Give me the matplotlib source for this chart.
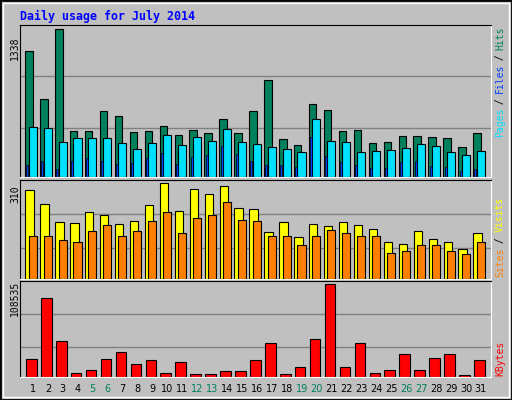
import numpy as np
import matplotlib.pyplot as plt
from matplotlib.patches import Rectangle

days = np.arange(1, 32)
hits = [1138, 711, 1338, 421, 421, 602, 557, 412, 421, 466, 384, 430, 403, 521, 403, 602,
        875, 348, 294, 657, 611, 421, 430, 312, 321, 375, 375, 366, 357, 275, 403]
files = [457, 448, 321, 357, 357, 357, 312, 257, 312, 384, 294, 366, 330, 439, 321, 303,
         275, 257, 230, 521, 330, 321, 230, 239, 248, 266, 303, 285, 230, 203, 239]
pages = [112, 148, 76, 148, 176, 148, 121, 130, 176, 221, 121, 185, 203, 285, 212, 148,
         112, 112, 94, 366, 194, 139, 112, 85, 85, 139, 148, 103, 94, 58, 76]
visits = [290, 243, 185, 182, 216, 209, 179, 189, 239, 310, 222, 293, 276, 300, 229, 226,
          152, 185, 135, 179, 172, 185, 175, 162, 121, 115, 155, 131, 121, 98, 148]
sites = [141, 138, 125, 121, 155, 175, 141, 155, 189, 216, 148, 199, 206, 249, 192, 189,
         138, 141, 111, 141, 158, 148, 141, 138, 84, 91, 111, 111, 91, 81, 121]
kbytes = [20600, 93100, 42000, 5150, 8700, 20600, 28900, 14650, 19400, 5150, 17000, 3960,
          3960, 7500, 7500, 19400, 39600, 3960, 12300, 44400, 108535, 12300, 39600, 5150,
          8700, 26500, 8700, 21800, 26500, 2770, 19400]
weekend = [5, 6, 12, 13, 19, 20, 26, 27]

W, H = 512, 400
bg = "#c0c0c0"
fig = plt.figure(figsize=(W / 100, H / 100), dpi=100, facecolor=bg)

# bevel border
fig.patches.append(Rectangle((0, 0), 1, 1, transform=fig.transFigure, fill=False,
                             edgecolor="black", lw=2))
fig.patches.append(Rectangle((3 / W, 3 / H), 1 - 6 / W, 1 - 6 / H, transform=fig.transFigure,
                             fill=False, edgecolor="white", lw=1))


def panel(y0, y1):
    # y0, y1 in pixels from top
    ax = fig.add_axes([20 / W, 1 - y1 / H, 471 / W, (y1 - y0) / H])
    ax.set_facecolor(bg)
    ax.set_xlim(0.13, 31.67)
    for s in ["left", "top"]:
        ax.spines[s].set_color("black")
    for s in ["right", "bottom"]:
        ax.spines[s].set_color("white")
    ax.set_xticks([])
    ax.set_yticks([])
    return ax


bk = dict(edgecolor="black", linewidth=0.8)

ax1 = panel(25, 177)
ax1.set_ylim(0, 1377)
for g in [448, 911]:
    ax1.axhline(g, color="#808080", lw=1, zorder=0)
ax1.bar(days - 0.27, hits, 0.5, color="#00805c", zorder=2, **bk)
ax1.bar(days - 0.02, files, 0.54, color="#00e0ff", zorder=3, **bk)
ax1.bar(days - 0.37, pages, 0.13, color="#0040ff", zorder=4, edgecolor="black", linewidth=0.5)

ax2 = panel(180, 279)
ax2.set_ylim(0, 321)
for g in [101, 212]:
    ax2.axhline(g, color="#808080", lw=1, zorder=0)
ax2.bar(days - 0.23, visits, 0.56, color="#ffff00", zorder=2, **bk)
ax2.bar(days - 0.02, sites, 0.54, color="#ff8000", zorder=3, **bk)

ax3 = panel(281, 377)
ax3.set_ylim(0, 112500)
for g in [34850, 74050]:
    ax3.axhline(g, color="#808080", lw=1, zorder=0)
ax3.bar(days - 0.11, kbytes, 0.71, color="#ff0000", zorder=2, **bk)

mono = "DejaVu Sans Mono"
fig.text(20 / W, 1 - 16 / H, "Daily usage for July 2014", color="#0000ff", fontsize=8.4,
         fontweight="bold", family=mono, va="center", ha="left")

# max labels on the left
for txt, yc in [("1338", 48), ("310", 194), ("108535", 298)]:
    fig.text(15 / W, 1 - yc / H, txt, rotation=90, fontsize=7, family=mono,
             ha="center", va="center")


def rlabel(ybot, parts, step):
    y = ybot
    for txt, col in parts:
        fig.text(500 / W, 1 - y / H, txt, rotation=90, color=col, fontsize=7, family=mono,
                 ha="center", va="bottom")
        y -= len(txt) * step


rlabel(137, [("Pages", "#00e0ff"), (" / ", "black"), ("Files", "#0040ff"),
             (" / ", "black"), ("Hits", "#00805c")], 5.45)
rlabel(277, [("Sites", "#ff8000"), (" / ", "black"), ("Visits", "#ffff00")], 5.6)
rlabel(376, [("KBytes", "#ff0000")], 5.6)

# day labels
for d in days:
    x = (33 + 14.93 * (d - 1)) / W
    fig.text(x, 1 - 389 / H, str(d), fontsize=7, family="DejaVu Sans", ha="center",
             va="center", color="#00805c" if d in weekend else "black")

fig.savefig("out.png", dpi=100, facecolor=bg)
